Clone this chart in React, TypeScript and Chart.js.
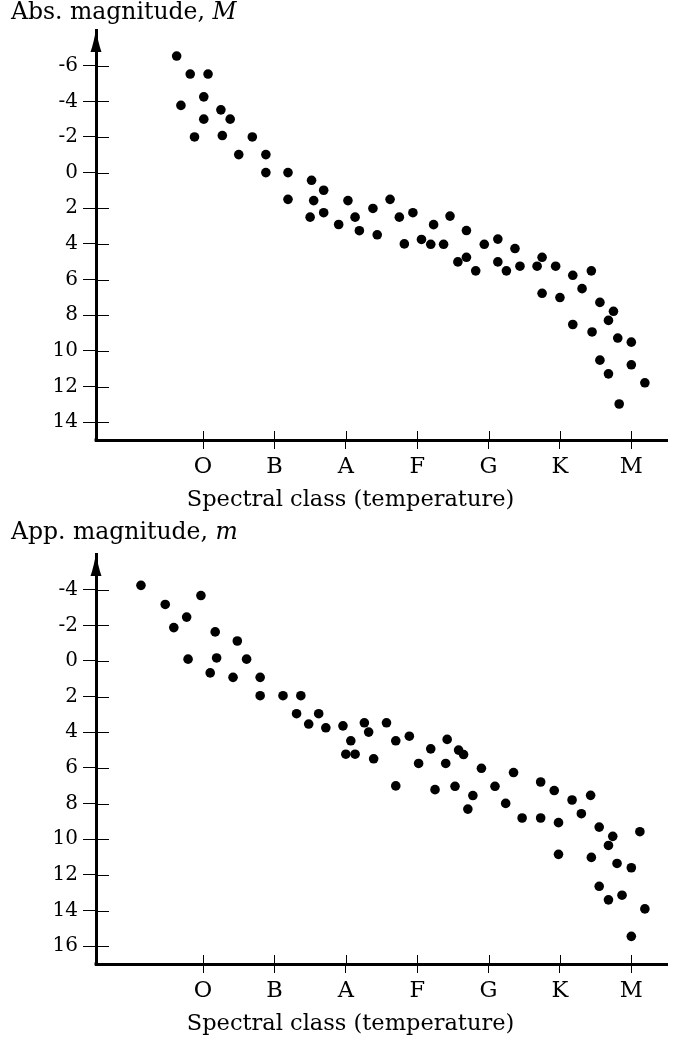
import React, { useEffect, useRef } from 'react';
import { Chart, registerables } from 'chart.js';

Chart.register(...registerables);

// ---- data ----
const spectralClasses = ['O', 'B', 'A', 'F', 'G', 'K', 'M'];
const classTicks = [0, 1, 2, 3, 4, 5, 6];

const absMagTicks = [-6, -4, -2, 0, 2, 4, 6, 8, 10, 12, 14];
const appMagTicks = [-4, -2, 0, 2, 4, 6, 8, 10, 12, 14, 16];

const absClassPos = [
  -0.37, -0.18, 0.07, 0.01, -0.31, 0.25, 0.38, 0.01, -0.12, 0.27, 0.69, 0.5, 0.88, 0.88, 1.19, 1.52,
  1.69, 1.19, 1.55, 2.03, 2.62, 2.38, 1.5, 1.69, 2.13, 2.75, 2.94, 1.9, 2.19, 2.44, 2.82, 3.06,
  3.19, 3.23, 3.46, 3.37, 3.69, 3.57, 3.69, 3.82, 3.94, 4.13, 4.37, 4.13, 4.25, 4.44, 4.68, 4.75,
  4.94, 5.18, 5.44, 4.75, 5.0, 5.31, 5.56, 5.75, 5.68, 5.18, 5.45, 5.81, 6.0, 5.56, 6.0, 5.68,
  6.19, 5.83,
];
const absMag = [
  -6.54, -5.53, -5.53, -4.25, -3.77, -3.52, -3.0, -3.0, -2.0, -2.08, -2.0, -1.01, -1.01, 0, 0, 0.43,
  0.99, 1.5, 1.57, 1.57, 1.5, 2.01, 2.5, 2.25, 2.5, 2.5, 2.25, 2.91, 3.26, 3.49, 4.0, 3.75,
  4.02, 2.92, 2.44, 4.02, 3.25, 5.01, 4.75, 5.51, 4.02, 3.73, 4.26, 5.01, 5.51, 5.25, 5.25, 4.75,
  5.25, 5.76, 5.51, 6.77, 7.01, 6.51, 7.28, 7.78, 8.29, 8.52, 8.94, 9.28, 9.51, 10.52, 10.78, 11.29,
  11.79, 12.98,
];

const appClassPos = [
  -0.87, -0.53, -0.03, -0.23, -0.41, 0.17, 0.48, -0.21, 0.19, 0.61, 0.1, 0.42, 0.8, 0.8, 1.12, 1.37,
  1.31, 1.62, 1.48, 1.72, 1.96, 2.26, 2.32, 2.57, 2.07, 2.7, 2.89, 2.0, 2.13, 2.39, 3.02, 2.7,
  3.19, 3.42, 3.58, 3.65, 3.4, 3.9, 4.35, 3.25, 3.53, 3.78, 3.71, 4.09, 4.24, 4.47, 4.73, 4.73,
  4.92, 4.98, 5.17, 5.43, 5.3, 5.55, 5.74, 5.68, 6.12, 4.98, 5.44, 5.8, 6.0, 5.55, 5.68, 5.87,
  6.19, 6.0,
];
const appMag = [
  -4.24, -3.17, -3.67, -2.46, -1.87, -1.63, -1.12, -0.1, -0.17, -0.1, 0.67, 0.92, 0.92, 1.95, 1.95, 1.95,
  2.96, 2.96, 3.54, 3.75, 3.64, 3.47, 3.99, 3.47, 4.48, 4.48, 4.22, 5.23, 5.23, 5.49, 5.75, 7.01,
  4.93, 4.4, 5.0, 5.25, 5.75, 6.02, 6.26, 7.22, 7.03, 7.55, 8.31, 7.03, 7.99, 8.81, 8.81, 6.79,
  7.27, 9.07, 7.8, 7.54, 8.57, 9.32, 9.84, 10.35, 9.58, 10.85, 11.02, 11.36, 11.6, 12.64, 13.4, 13.14,
  13.91, 15.45,
];

const xTitle = 'Spectral class (temperature)';

// ---- styling ----
const FAMILY = '"DejaVu Serif", "Liberation Serif", serif';

const axisDecor = {
  id: 'axisDecor',
  afterDraw(chart: any, _args: any, o: any) {
    const { ctx, chartArea, scales } = chart;
    const { left, top, bottom } = chartArea;
    ctx.save();
    ctx.strokeStyle = '#000';
    ctx.fillStyle = '#000';
    ctx.lineWidth = 1;
    ctx.beginPath();
    scales.y.ticks.forEach((t: any) => {
      const py = Math.round(scales.y.getPixelForValue(t.value)) + 0.5;
      ctx.moveTo(left, py);
      ctx.lineTo(left + o.yTickIn, py);
    });
    scales.x.ticks.forEach((t: any) => {
      const px = Math.round(scales.x.getPixelForValue(t.value)) + 0.5;
      ctx.moveTo(px, bottom);
      ctx.lineTo(px, bottom - o.xTickIn);
    });
    ctx.stroke();
    // corner square
    ctx.fillRect(left - 1.5, bottom - 1.5, 3, 3);
    // arrow head
    ctx.beginPath();
    ctx.moveTo(left, top - 1);
    ctx.quadraticCurveTo(left - 2, top + 12, left - 5.5, top + 22);
    ctx.lineTo(left + 5.5, top + 22);
    ctx.quadraticCurveTo(left + 2, top + 12, left, top - 1);
    ctx.closePath();
    ctx.fill();
    // y label
    ctx.textAlign = 'left';
    ctx.textBaseline = 'alphabetic';
    ctx.font = `${o.labelSize}px ${FAMILY}`;
    ctx.fillText(o.label, o.labelX, o.labelY);
    const w = ctx.measureText(o.label).width;
    ctx.font = `italic ${o.labelSize}px ${FAMILY}`;
    ctx.fillText(o.labelVar, o.labelX + w, o.labelY);
    ctx.restore();
  },
};

function buildConfig(p: any) {
  const points = p.xs.map((x: number, i: number) => ({ x, y: p.ys[i] }));
  return {
    type: 'scatter',
    data: {
      datasets: [
        {
          data: points,
          backgroundColor: '#000',
          borderColor: '#000',
          borderWidth: 0,
          pointRadius: 4.8,
          pointHoverRadius: 4.8,
        },
      ],
    },
    options: {
      animation: false,
      responsive: false,
      events: [],
      layout: { padding: { top: p.padTop, left: 34, right: 8, bottom: p.padBottom } },
      plugins: {
        legend: { display: false },
        tooltip: { enabled: false },
        title: {
          display: true,
          position: 'bottom',
          text: xTitle,
          color: '#000',
          font: { family: FAMILY, size: 22.5, weight: 'normal', lineHeight: 1.2 },
          padding: { top: 4.5, bottom: 0 },
        },
        axisDecor: {
          yTickIn: 13,
          xTickIn: 9,
          label: p.label,
          labelVar: p.labelVar,
          labelX: 11,
          labelY: p.labelY,
          labelSize: 23.5,
        },
      },
      scales: {
        x: {
          type: 'linear',
          min: -1.5,
          max: 6.5,
          afterBuildTicks: (s: any) => {
            s.ticks = classTicks.map((v) => ({ value: v }));
          },
          afterFit: (s: any) => {
            s.height = 42;
          },
          ticks: {
            callback: (v: number) => {
              const i = classTicks.indexOf(v);
              return i >= 0 ? spectralClasses[i] : '';
            },
            color: '#000',
            font: { family: FAMILY, size: 22.5, lineHeight: 1.2 },
            padding: 5,
            maxRotation: 0,
            autoSkip: false,
          },
          grid: { drawOnChartArea: false, drawTicks: true, tickLength: 9, color: '#000', lineWidth: 1 },
          border: { display: true, color: '#000', width: 3 },
        },
        y: {
          type: 'linear',
          reverse: true,
          min: p.yMin,
          max: p.yMax,
          afterBuildTicks: (s: any) => {
            s.ticks = p.yTicks.map((v: number) => ({ value: v }));
          },
          afterFit: (s: any) => {
            s.width = 62;
          },
          ticks: {
            callback: (v: number) => String(v),
            color: '#000',
            font: { family: FAMILY, size: 20, lineHeight: 1.2 },
            padding: 5,
            autoSkip: false,
          },
          grid: { drawOnChartArea: false, drawTicks: true, tickLength: 13, color: '#000', lineWidth: 1 },
          border: { display: true, color: '#000', width: 3 },
        },
      },
    },
    plugins: [axisDecor],
  };
}

function Panel(props: any) {
  const ref = useRef<HTMLCanvasElement | null>(null);
  useEffect(() => {
    if (!ref.current) return;
    const chart = new Chart(ref.current, buildConfig(props) as any);
    return () => chart.destroy();
  }, []);
  return (
    <canvas
      ref={ref}
      width={675}
      height={521}
      style={{ display: 'block', width: '675px', height: '521px' }}
    />
  );
}

export default function App() {
  return (
    <div style={{ position: 'absolute', top: 0, left: 0, width: 675, background: '#fff' }}>
      <Panel
        xs={absClassPos}
        ys={absMag}
        yTicks={absMagTicks}
        yMin={-8}
        yMax={15}
        padTop={30}
        padBottom={7.5}
        label="Abs. magnitude, "
        labelVar="M"
        labelY={18.5}
      />
      <Panel
        xs={appClassPos}
        ys={appMag}
        yTicks={appMagTicks}
        yMin={-6}
        yMax={17}
        padTop={33}
        padBottom={4.5}
        label="App. magnitude, "
        labelVar="m"
        labelY={18}
      />
    </div>
  );
}
